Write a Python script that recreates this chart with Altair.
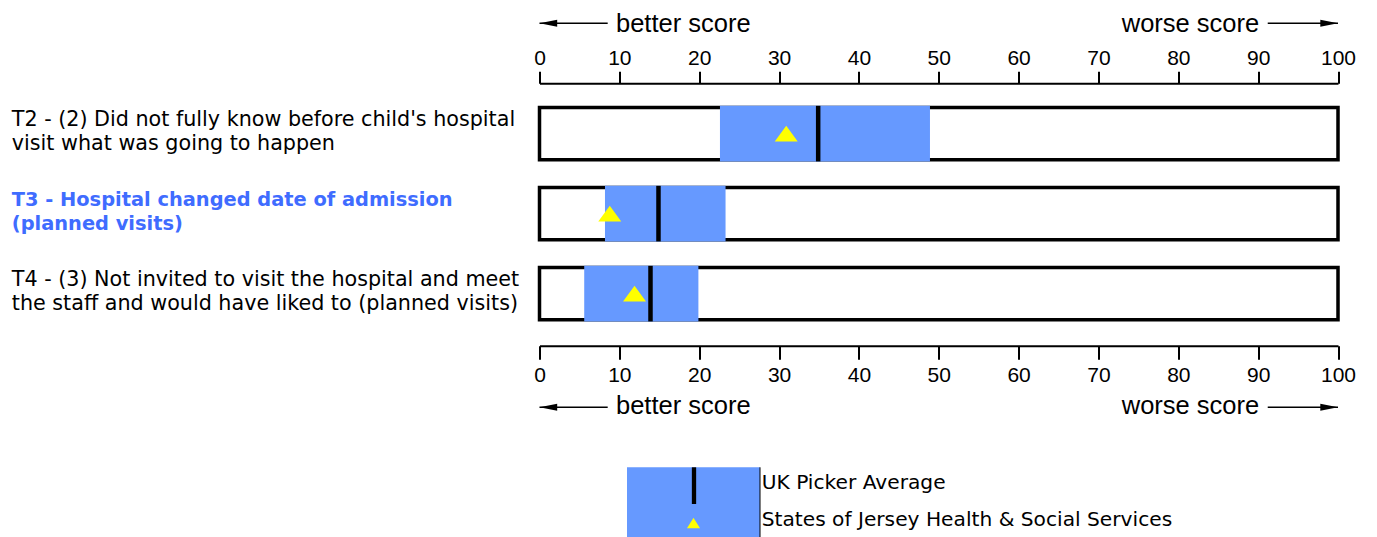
import altair as alt
import pandas as pd

# ---------------- data ----------------
row_ids = [0, 1, 2]
labels = [
    "T2 - (2) Did not fully know before child's hospital\nvisit what was going to happen",
    "T3 - Hospital changed date of admission\n(planned visits)",
    "T4 - (3) Not invited to visit the hospital and meet\nthe staff and would have liked to (planned visits)",
]
highlight = [False, True, False]
range_low = [22.6, 8.2, 5.6]
range_high = [48.9, 23.3, 19.9]
uk_avg = [34.9, 14.9, 13.9]
jersey = [30.9, 8.8, 11.9]
tick_values = [0, 10, 20, 30, 40, 50, 60, 70, 80, 90, 100]
legend_labels = ["UK Picker Average", "States of Jersey Health & Social Services"]
dir_labels = ["better score", "worse score"]

# ---------------- layout ----------------
W, H = 798.5, 262.4
PAD = {"left": 531.5, "top": 75.3, "right": 30, "bottom": 191.3}
BLUE = "#6699ff"
HL_BLUE = "#3f6cff"
TICK_FONT = "Liberation Sans"
LABEL_FONT = "DejaVu Sans"

df = pd.DataFrame({
    "row": row_ids, "label": labels, "hl": highlight,
    "lo": range_low, "hi": range_high, "avg": uk_avg, "jsy": jersey,
})

xscale = alt.Scale(domain=[0, 100], nice=False, zero=False)
yscale = alt.Scale(domain=[-0.629, 2.651], reverse=True, nice=False, zero=False)

axis_common = dict(
    values=tick_values, grid=False, domainColor="black", domainWidth=2,
    tickColor="black", tickWidth=2, labelFont=TICK_FONT, labelFontSize=21,
    labelColor="black", labelFlush=False, labelOverlap=False, format="d",
)
top_axis = alt.Axis(orient="top", tickSize=12, labelPadding=3, **axis_common)
bottom_axis = alt.Axis(orient="bottom", tickSize=13.5, labelPadding=5, **axis_common)

base = alt.Chart(df)

box = base.transform_calculate(
    y1="datum.row - 0.327", y2="datum.row + 0.327"
).mark_rect(fill="white", stroke="black", strokeWidth=3.5).encode(
    x=alt.XDatum(0, scale=xscale, axis=top_axis, title=None),
    x2=alt.X2Datum(100),
    y=alt.Y("y1:Q", scale=yscale, axis=None),
    y2="y2:Q",
)

rng = base.transform_calculate(
    y1="datum.row - 0.347", y2="datum.row + 0.347"
).mark_rect(fill=BLUE, opacity=1).encode(
    x=alt.X("lo:Q", scale=xscale, axis=bottom_axis, title=None),
    x2="hi:Q",
    y=alt.Y("y1:Q", scale=yscale, axis=None),
    y2="y2:Q",
)

avg = base.transform_calculate(
    y1="datum.row - 0.347", y2="datum.row + 0.347"
).mark_rule(color="black", strokeWidth=4.5).encode(
    x=alt.X("avg:Q", scale=xscale, axis=None),
    y=alt.Y("y1:Q", scale=yscale, axis=None),
    y2="y2:Q",
)

tri = base.mark_point(
    shape="M-1,0.68L1,0.68L0,-0.68Z", filled=True, size=529,
    color="#ffff00", opacity=1, strokeWidth=0,
).encode(
    x=alt.X("jsy:Q", scale=xscale, axis=None),
    y=alt.Y("row:Q", scale=yscale, axis=None),
)

lab_norm = base.transform_filter("!datum.hl").mark_text(
    align="left", baseline="middle", lineBreak="\n", lineHeight=24.3, dy=-14,
    font=LABEL_FONT, fontSize=20.7, color="black",
).encode(
    x=alt.value(-527.7),
    y=alt.Y("row:Q", scale=yscale, axis=None),
    text="label:N",
)
lab_hl = base.transform_filter("datum.hl").mark_text(
    align="left", baseline="middle", lineBreak="\n", lineHeight=24.3, dy=-14,
    font=LABEL_FONT, fontSize=19.4, fontWeight="bold", color=HL_BLUE,
).encode(
    x=alt.value(-527.7),
    y=alt.Y("row:Q", scale=yscale, axis=None),
    text="label:N",
)

# ---- direction annotations (top and bottom) ----
ann_layers = []
for text_y, arrow_y in [(-51.6, -60.0), (330.5, 324.0)]:
    better_txt = alt.Chart(pd.DataFrame({"t": [dir_labels[0]], "x": [9.58]})).mark_text(
        align="left", baseline="alphabetic", font=TICK_FONT, fontSize=25.5, color="black"
    ).encode(x=alt.X("x:Q", scale=xscale, axis=None), y=alt.value(text_y), text="t:N")
    worse_txt = alt.Chart(pd.DataFrame({"t": [dir_labels[1]], "x": [90.13]})).mark_text(
        align="right", baseline="alphabetic", font=TICK_FONT, fontSize=25.5, color="black"
    ).encode(x=alt.X("x:Q", scale=xscale, axis=None), y=alt.value(text_y), text="t:N")
    arrows = alt.Chart(pd.DataFrame({"a": [0.0, 91.2], "b": [8.54, 100.0]})).mark_rule(
        color="black", strokeWidth=1.6
    ).encode(x=alt.X("a:Q", scale=xscale, axis=None), x2="b:Q", y=alt.value(arrow_y))
    head_l = alt.Chart(pd.DataFrame({"x": [0.0]})).mark_point(
        shape="M-1,0L1,-0.4L1,0.4Z", filled=True, size=313, color="black",
        opacity=1, strokeWidth=0, xOffset=8.85,
    ).encode(x=alt.X("x:Q", scale=xscale, axis=None), y=alt.value(arrow_y))
    head_r = alt.Chart(pd.DataFrame({"x": [100.0]})).mark_point(
        shape="M1,0L-1,-0.4L-1,0.4Z", filled=True, size=313, color="black",
        opacity=1, strokeWidth=0, xOffset=-8.85,
    ).encode(x=alt.X("x:Q", scale=xscale, axis=None), y=alt.value(arrow_y))
    ann_layers += [better_txt, worse_txt, arrows, head_l, head_r]

# ---- legend ----
one = pd.DataFrame({"k": [0]})
leg_rect = alt.Chart(one).mark_rect(fill=BLUE).encode(
    x=alt.value(87.5), x2=alt.value(220.5), y=alt.value(384), y2=alt.value(460)
)
leg_edge = alt.Chart(one).mark_rule(color="black", strokeWidth=1).encode(
    x=alt.value(220.5), y=alt.value(384), y2=alt.value(460)
)
leg_line = alt.Chart(one).mark_rule(color="black", strokeWidth=4.3).encode(
    x=alt.value(154.5), y=alt.value(384), y2=alt.value(420.7)
)
leg_tri = alt.Chart(one).mark_point(
    shape="M-1,0.8L1,0.8L0,-0.8Z", filled=True, size=169, color="#ffff00",
    opacity=1, strokeWidth=0,
).encode(x=alt.value(154), y=alt.value(439.7))
leg_t1 = alt.Chart(pd.DataFrame({"t": [legend_labels[0]]})).mark_text(
    align="left", baseline="alphabetic", font=LABEL_FONT, fontSize=20.2, color="black"
).encode(x=alt.value(222.2), y=alt.value(405.5), text="t:N")
leg_t2 = alt.Chart(pd.DataFrame({"t": [legend_labels[1]]})).mark_text(
    align="left", baseline="alphabetic", font=LABEL_FONT, fontSize=20.2, color="black"
).encode(x=alt.value(222.2), y=alt.value(442.5), text="t:N")

chart = alt.layer(
    box, rng, avg, tri, lab_norm, lab_hl, *ann_layers,
    leg_rect, leg_edge, leg_line, leg_tri, leg_t1, leg_t2,
).resolve_axis(x="independent").resolve_scale(x="shared").properties(
    width=W, height=H,
    autosize=alt.AutoSizeParams(type="none"),
    padding=PAD,
    background="white",
).configure_view(stroke=None)

chart.save("out.html", embed_options={"renderer": "svg", "actions": False})
